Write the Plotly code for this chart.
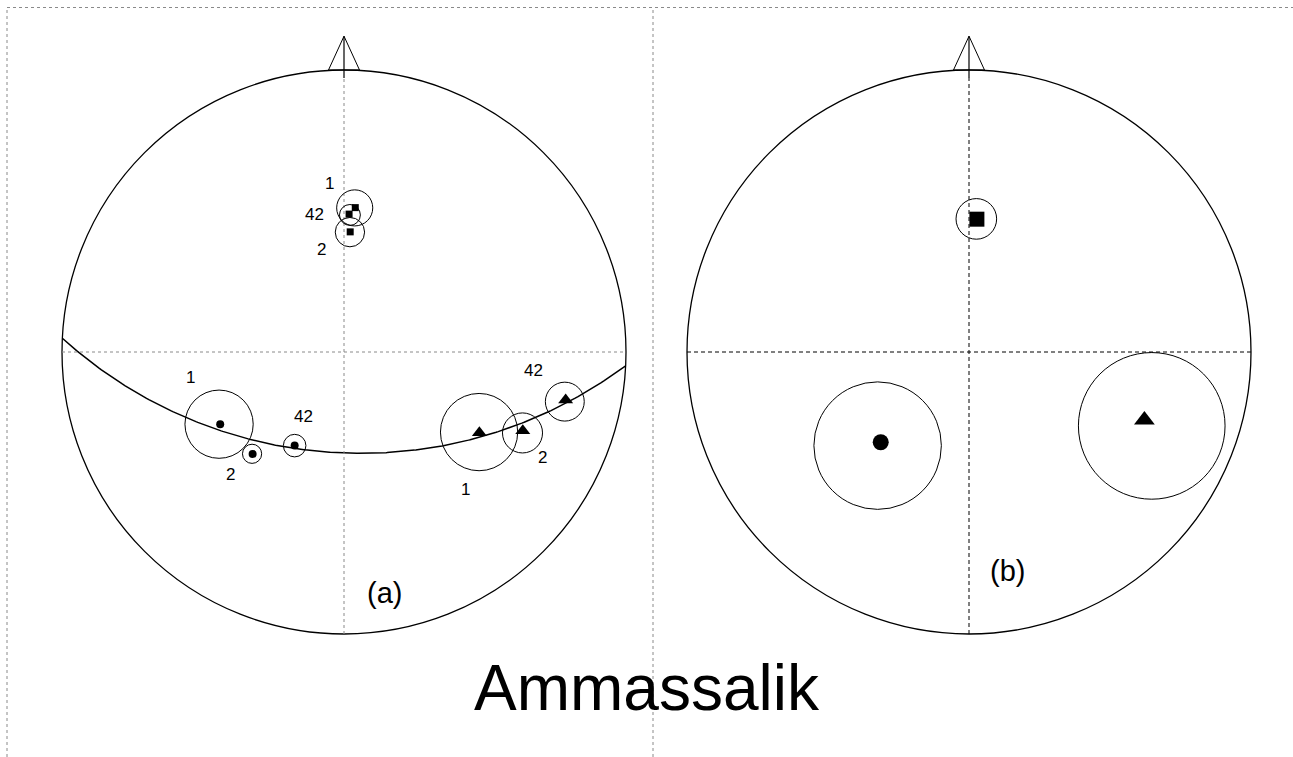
import numpy as np
import plotly.graph_objects as go

# Stereonet positions in units of the net radius (x = east, y = north), Wulff net
# ---- (a) site mean directions ----
sq_site = ["1", "42", "2"]
sq_x = [0.040, 0.018, 0.022]
sq_y = [0.512, 0.489, 0.426]
sq_cx = [0.038, 0.021, 0.021]
sq_cy = [0.511, 0.486, 0.425]
sq_r = [0.064, 0.037, 0.052]
sq_lx = [-0.053, -0.105, -0.079]
sq_ly = [0.596, 0.489, 0.362]

dot_site = ["1", "2", "42"]
dot_x = [-0.439, -0.324, -0.175]
dot_y = [-0.256, -0.362, -0.332]
dot_cx = [-0.443, -0.326, -0.175]
dot_cy = [-0.256, -0.361, -0.332]
dot_r = [0.121, 0.034, 0.040]
dot_lx = [-0.546, -0.401, -0.142]
dot_ly = [-0.090, -0.434, -0.229]

tri_site = ["1", "2", "42"]
tri_x = [0.480, 0.634, 0.786]
tri_y = [-0.286, -0.279, -0.170]
tri_cx = [0.479, 0.633, 0.783]
tri_cy = [-0.284, -0.287, -0.176]
tri_r = [0.137, 0.071, 0.069]
tri_lx = [0.432, 0.703, 0.671]
tri_ly = [-0.486, -0.373, -0.067]

# great circle fitted through the site means (dip direction, dip in degrees)
gc_dipdir = 182.8
gc_dip = 50.6

# ---- (b) mean directions ----
b_symbol = ["square", "circle", "triangle-up"]
b_size = [15, 16, 18]
b_x = [0.028, -0.313, 0.622]
b_y = [0.471, -0.320, -0.241]
b_cx = [0.026, -0.324, 0.648]
b_cy = [0.472, -0.332, -0.262]
b_r = [0.072, 0.226, 0.260]

FONT = "Liberation Sans, Arial, sans-serif"
W, H = 1293, 757

fig = go.Figure()
shapes = []
annotations = []


def ring(xr, yr, cx, cy, r, width=1.0):
    return dict(type="circle", xref=xr, yref=yr, x0=cx - r, x1=cx + r,
                y0=cy - r, y1=cy + r, line=dict(color="black", width=width))


def net_frame(xr, yr, dash_color, dash):
    out = [ring(xr, yr, 0, 0, 1, 1.3)]
    out.append(dict(type="line", xref=xr, yref=yr, x0=-1, x1=1, y0=0, y1=0,
                    line=dict(color=dash_color, width=1, dash=dash)))
    out.append(dict(type="line", xref=xr, yref=yr, x0=0, x1=0, y0=-1, y1=0.972,
                    line=dict(color=dash_color, width=1, dash=dash)))
    # north arrow
    out.append(dict(type="path", xref=xr, yref=yr,
                    path="M -0.055,1 L 0,1.12 L 0.055,1 Z",
                    line=dict(color="black", width=1)))
    out.append(dict(type="line", xref=xr, yref=yr, x0=0, x1=0, y0=1.12, y1=0.972,
                    line=dict(color="black", width=1.2)))
    return out


shapes += net_frame("x", "y", "#8a8a8a", "3px,3px")
shapes += net_frame("x2", "y2", "black", "4px,3px")

# great circle (stereographic projection of the plane)
t = np.linspace(gc_dipdir - 90, gc_dipdir + 90, 361)
p = np.degrees(np.arctan(np.tan(np.radians(gc_dip)) * np.cos(np.radians(t - gc_dipdir))))
rr = np.tan(np.radians(90 - p) / 2)
fig.add_trace(go.Scatter(x=rr * np.sin(np.radians(t)), y=rr * np.cos(np.radians(t)),
                         mode="lines", line=dict(color="black", width=1.5),
                         xaxis="x", yaxis="y", hoverinfo="skip"))

groups = [
    ("square", 7, sq_site, sq_x, sq_y, sq_cx, sq_cy, sq_r, sq_lx, sq_ly),
    ("circle", 8, dot_site, dot_x, dot_y, dot_cx, dot_cy, dot_r, dot_lx, dot_ly),
    ("triangle-up", 13, tri_site, tri_x, tri_y, tri_cx, tri_cy, tri_r, tri_lx, tri_ly),
]
for sym, size, site, x, y, cx, cy, r, lx, ly in groups:
    fig.add_trace(go.Scatter(x=x, y=y, mode="markers", xaxis="x", yaxis="y",
                             marker=dict(symbol=sym, size=size, color="black"),
                             text=site, hovertemplate="site %{text}<extra></extra>"))
    for i in range(len(site)):
        shapes.append(ring("x", "y", cx[i], cy[i], r[i]))
        annotations.append(dict(x=lx[i], y=ly[i], xref="x", yref="y", text=site[i],
                                showarrow=False, font=dict(size=17, color="black", family=FONT)))

for i in range(len(b_x)):
    fig.add_trace(go.Scatter(x=[b_x[i]], y=[b_y[i]], mode="markers", xaxis="x2", yaxis="y2",
                             marker=dict(symbol=b_symbol[i], size=b_size[i], color="black"),
                             hoverinfo="skip"))
    shapes.append(ring("x2", "y2", b_cx[i], b_cy[i], b_r[i]))

annotations += [
    dict(x=0.145, y=-0.855, xref="x", yref="y", text="(a)", showarrow=False,
         font=dict(size=29, color="black", family=FONT)),
    dict(x=0.135, y=-0.776, xref="x2", yref="y2", text="(b)", showarrow=False,
         font=dict(size=29, color="black", family=FONT)),
    dict(x=647.5 / W, y=1 - 688 / H, xref="paper", yref="paper", text="Ammassalik",
         xanchor="center", yanchor="middle", showarrow=False,
         font=dict(size=64, color="black", family=FONT)),
]

# dotted page frame
frame = dict(color="#8a8a8a", width=1, dash="dot")
shapes += [
    dict(type="line", xref="paper", yref="paper", x0=7 / W, x1=1, y0=1 - 7.5 / H, y1=1 - 7.5 / H, line=frame),
    dict(type="line", xref="paper", yref="paper", x0=7 / W, x1=7 / W, y0=0, y1=1 - 7.5 / H, line=frame),
    dict(type="line", xref="paper", yref="paper", x0=653 / W, x1=653 / W, y0=0, y1=1 - 7.5 / H, line=frame),
]

R = 282.0
split = 653 / W
ax = dict(visible=False, showgrid=False, zeroline=False, fixedrange=True)
fig.update_layout(
    width=W, height=H, margin=dict(l=0, r=0, t=0, b=0),
    paper_bgcolor="white", plot_bgcolor="white", showlegend=False,
    xaxis=dict(ax, domain=[0, split], range=[-344 / R, (653 - 344) / R]),
    yaxis=dict(ax, domain=[0, 1], range=[(352 - H) / R, 352 / R]),
    xaxis2=dict(ax, domain=[split, 1], range=[(653 - 969) / R, (W - 969) / R]),
    yaxis2=dict(ax, domain=[0, 1], range=[(352 - H) / R, 352 / R], anchor="x2"),
    shapes=shapes, annotations=annotations,
)

fig.write_html("out.html", config={"displayModeBar": False},
               post_script="document.body.style.margin='0';")
